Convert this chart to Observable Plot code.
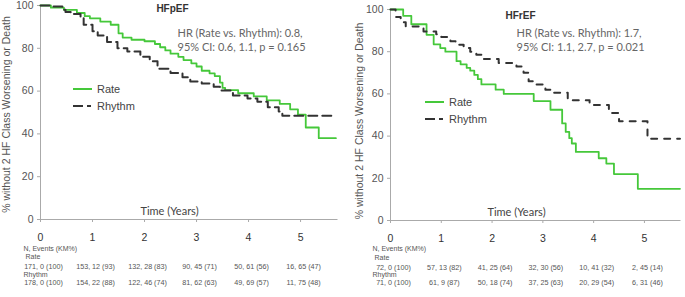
<!DOCTYPE html>
<html>
<head>
<meta charset="utf-8">
<script src="https://cdn.jsdelivr.net/npm/d3@7"></script>
<script src="https://cdn.jsdelivr.net/npm/@observablehq/plot@0.6"></script>
<style>
  html, body { margin: 0; padding: 0; background: #fff; }
  #wrap { display: flex; width: 685px; height: 297px; overflow: hidden; }
  svg { display: block; }
</style>
</head>
<body>
<div id="wrap"></div>
<script>
// ---------- DATA ----------
const years = [0, 1, 2, 3, 4, 5];
const yTicks = [0, 20, 40, 60, 80, 100];

// HFpEF Kaplan-Meier curves: [time (years), % event-free]
const pefRate = [
  [0, 100], [0.2, 99], [0.45, 98], [0.7, 96.5], [0.85, 95], [0.95, 94], [1.15, 92.5],
  [1.35, 91], [1.5, 87], [1.58, 85], [1.75, 84], [2.0, 83.3], [2.2, 82], [2.3, 80.5],
  [2.4, 79], [2.5, 77.5], [2.65, 76], [2.75, 74.5], [2.9, 73], [3.0, 71.5], [3.1, 69.5],
  [3.25, 68.3], [3.35, 67], [3.45, 64], [3.5, 61.5], [3.55, 60.5], [3.8, 59], [4.1, 57.5],
  [4.35, 55.7], [4.6, 54], [4.8, 51.5], [4.95, 49], [5.1, 43], [5.35, 38], [5.68, 38]
];
const pefRhythm = [
  [0, 100], [0.25, 99.5], [0.42, 98], [0.48, 97], [0.58, 96], [0.77, 94], [0.83, 91],
  [1.0, 88], [1.1, 86], [1.28, 83], [1.48, 80], [1.67, 78.5], [1.92, 76], [2.1, 74],
  [2.25, 70.5], [2.5, 68.5], [2.73, 66.5], [2.88, 64.5], [3.1, 63.5], [3.33, 62],
  [3.45, 60.3], [3.7, 58], [3.98, 56.6], [4.17, 55], [4.37, 52.5], [4.58, 50.5],
  [4.65, 48.5], [5.68, 48.5]
];

// HFrEF Kaplan-Meier curves
const refRate = [
  [0, 100], [0.25, 97], [0.41, 93], [0.71, 88], [0.85, 83.5], [0.98, 81.7], [1.08, 80],
  [1.3, 75.5], [1.38, 74], [1.5, 72.3], [1.57, 71], [1.65, 69], [1.72, 67], [1.79, 64.5],
  [2.07, 62], [2.23, 60], [2.82, 56.6], [3.15, 52.5], [3.38, 46], [3.45, 42], [3.52, 39],
  [3.57, 36.5], [3.65, 32.5], [4.1, 29.5], [4.25, 27], [4.4, 22], [4.87, 15], [5.7, 15]
];
const refRhythm = [
  [0, 100], [0.1, 96.5], [0.2, 94], [0.3, 92], [0.65, 89.6], [0.9, 88.3], [1.0, 87],
  [1.18, 85], [1.28, 83.3], [1.44, 81.7], [1.57, 80], [1.69, 78.6], [1.83, 76.5],
  [2.13, 74.7], [2.48, 73], [2.62, 70], [2.72, 66], [2.82, 64.5], [3.05, 62], [3.2, 60.5],
  [3.49, 57], [3.92, 54.7], [4.3, 51], [4.5, 47], [5.06, 38.7], [5.7, 38.7]
];

// Numbers at risk tables
const pefRateRisk = ["171, 0 (100)", "153, 12 (93)", "132, 28 (83)", "90, 45 (71)", "50, 61 (56)", "16, 65 (47)"];
const pefRhythmRisk = ["178, 0 (100)", "154, 22 (88)", "122, 46 (74)", "81, 62 (63)", "49, 69 (57)", "11, 75 (48)"];
const refRateRisk = ["72, 0 (100)", "57, 13 (82)", "41, 25 (64)", "32, 30 (56)", "10, 41 (32)", "2, 45 (14)"];
const refRhythmRisk = ["71, 0 (100)", "61, 9 (87)", "50, 18 (74)", "37, 25 (63)", "20, 29 (54)", "6, 31 (46)"];

const titles = ["HFpEF", "HFrEF"];
const hrTexts = [
  "HR (Rate vs. Rhythm): 0.8,\n95% CI: 0.6, 1.1, p = 0.165",
  "HR (Rate vs. Rhythm): 1.7,\n95% CI: 1.1, 2.7, p = 0.021"
];
const yLabel = "% without 2 HF Class Worsening or Death";
const xLabel = "Time (Years)";
const seriesNames = ["Rate", "Rhythm"];
const tableHead = "N, Events (KM%)";

// ---------- STYLE ----------
const GREEN = "#45c83a";
const DARK = "#333";
const SANS = "Arial, 'Liberation Sans', sans-serif";
const CAL = "Lato, 'Open Sans', sans-serif";

function panel(cfg) {
  const toObj = a => a.map(([t, v]) => ({t, v}));
  const rateRows = years.map((y, i) => ({y, s: cfg.rateRisk[i]}));
  const rhyRows = years.map((y, i) => ({y, s: cfg.rhyRisk[i]}));
  const svg = Plot.plot({
    width: cfg.width, height: 297,
    marginLeft: cfg.ml, marginRight: cfg.mr, marginTop: cfg.mt, marginBottom: cfg.mb,
    style: {fontFamily: SANS, background: "transparent", overflow: "visible"},
    x: {domain: [0, 5.72]},
    y: {domain: [0, 100]},
    marks: [
      Plot.ruleX([0], {stroke: "#aaa", strokeWidth: 1}),
      Plot.ruleY([0], {stroke: "#aaa", strokeWidth: 1}),
      Plot.axisY({ticks: yTicks, tickSize: 3, tickPadding: 4, fontSize: 10.5, color: "#555", stroke: "#aaa", label: null}),
      Plot.axisX({ticks: years, tickFormat: "d", tickSize: 3, tickPadding: 11, fontSize: 10.5, color: "#333", stroke: "#aaa", label: null}),
      Plot.line(toObj(cfg.rate), {x: "t", y: "v", curve: "step-after", stroke: GREEN, strokeWidth: 1.8}),
      Plot.line(toObj(cfg.rhy), {x: "t", y: "v", curve: "step-after", stroke: DARK, strokeWidth: 2, strokeDasharray: cfg.dash}),
      // y axis label
      Plot.text([yLabel], {frameAnchor: "left", textAnchor: "middle", rotate: -90, dx: cfg.ylDx, dy: cfg.ylDy, fontSize: 10.5, fill: "#555"}),
      // title
      Plot.text([cfg.title], {frameAnchor: "top-left", textAnchor: "middle", lineAnchor: "middle", dx: cfg.tDx, dy: cfg.tDy, fontSize: 10, fontWeight: "bold", fill: "#333"}),
      // HR annotation
      Plot.text([cfg.hr], {frameAnchor: "top-left", textAnchor: "start", lineAnchor: "middle", dx: cfg.hrDx, dy: cfg.hrDy, fontSize: 11, lineHeight: 1.27, fill: "#666", fontFamily: CAL}),
      // x label
      Plot.text([xLabel], {frameAnchor: "bottom-left", textAnchor: "middle", lineAnchor: "middle", dx: cfg.xlDx, dy: -8, fontSize: 11, fill: "#444", fontFamily: CAL}),
      // table
      Plot.text([tableHead], {frameAnchor: "bottom-left", textAnchor: "start", lineAnchor: "middle", dx: cfg.thDx, dy: cfg.rowDy[0], fontSize: 7, fill: "#555"}),
      Plot.text([seriesNames[0]], {frameAnchor: "bottom-left", textAnchor: "start", lineAnchor: "middle", dx: cfg.thDx + 2, dy: cfg.rowDy[1], fontSize: 7, fill: "#555"}),
      Plot.text(rateRows, {x: "y", frameAnchor: "bottom", text: "s", textAnchor: "middle", lineAnchor: "middle", dx: 3, dy: cfg.rowDy[2], fontSize: 7.2, fill: "#555"}),
      Plot.text([seriesNames[1]], {frameAnchor: "bottom-left", textAnchor: "start", lineAnchor: "middle", dx: cfg.thDx, dy: cfg.rowDy[3], fontSize: 7, fill: "#555"}),
      Plot.text(rhyRows, {x: "y", frameAnchor: "bottom", text: "s", textAnchor: "middle", lineAnchor: "middle", dx: 3, dy: cfg.rowDy[4], fontSize: 7.2, fill: "#555"})
    ]
  });
  // legend (layout only)
  const g = d3.select(svg).append("g")
    .attr("font-family", SANS).attr("font-size", 11).attr("fill", "#444").attr("text-anchor", "start");
  const L = cfg.leg;
  g.append("path").attr("d", `M${L.x},${L.y}h19`).attr("fill", "none")
    .attr("stroke", GREEN).attr("stroke-width", 2);
  g.append("path").attr("d", `M${L.x},${L.y + 17}h19`).attr("fill", "none")
    .attr("stroke", DARK).attr("stroke-width", 2).attr("stroke-dasharray", "10,4,4,4");
  g.append("text").attr("x", L.x + 24).attr("y", L.y).attr("dy", "0.35em").text(seriesNames[0]);
  g.append("text").attr("x", L.x + 24).attr("y", L.y + 17).attr("dy", "0.35em").text(seriesNames[1]);
  return svg;
}

const wrap = document.getElementById("wrap");
wrap.append(panel({
  width: 342, ml: 40, mr: 4.5, mt: 5, mb: 78,
  rate: pefRate, rhy: pefRhythm, rateRisk: pefRateRisk, rhyRisk: pefRhythmRisk,
  dash: "9,5", title: titles[0], hr: hrTexts[0],
  ylDx: -34, ylDy: 2, tDx: 132, tDy: 3, hrDx: 137, hrDy: 34, xlDx: 129,
  thDx: -17, rowDy: [29, 37.5, 47, 55, 63],
  leg: {x: 73, y: 89}
}));
wrap.append(panel({
  width: 343, ml: 48, mr: 4.5, mt: 9, mb: 77,
  rate: refRate, rhy: refRhythm, rateRisk: refRateRisk, rhyRisk: refRhythmRisk,
  dash: "6,7", title: titles[1], hr: hrTexts[1],
  ylDx: -31, ylDy: 6, tDx: 130, tDy: 6, hrDx: 126, hrDy: 30, xlDx: 126,
  thDx: -18, rowDy: [28, 37, 47, 54, 62],
  leg: {x: 83, y: 102}
}));
</script>
</body>
</html>
